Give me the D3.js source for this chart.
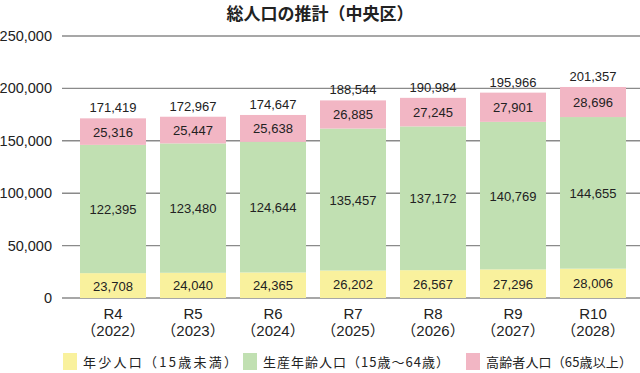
<!DOCTYPE html>
<html>
<head>
<meta charset="utf-8">
<script src="https://d3js.org/d3.v7.min.js"></script>
<style>
  body { margin: 0; background: #fff; }
  text { font-family: "Liberation Sans", "Noto Sans CJK JP", sans-serif; fill: #222; }
</style>
</head>
<body>
<div id="chart"></div>
<script>
var years = ["R4", "R5", "R6", "R7", "R8", "R9", "R10"];
var westernYears = ["（2022）", "（2023）", "（2024）", "（2025）", "（2026）", "（2027）", "（2028）"];
var young = [23708, 24040, 24365, 26202, 26567, 27296, 28006];
var working = [122395, 123480, 124644, 135457, 137172, 140769, 144655];
var elderly = [25316, 25447, 25638, 26885, 27245, 27901, 28696];
var totals = [171419, 172967, 174647, 188544, 190984, 195966, 201357];
var yTicks = [0, 50000, 100000, 150000, 200000, 250000];
var seriesNames = ["年少人口（15歳未満）", "生産年齢人口（15歳～64歳）", "高齢者人口（65歳以上）"];
var colors = ["#f9f19d", "#c1e0b2", "#f2b6c4"];

var width = 640, height = 373;
var svg = d3.select("#chart").append("svg")
  .attr("width", width).attr("height", height);

var x = d3.scaleBand().domain(years).range([73, 633]).paddingInner(0.175).paddingOuter(0.0875);
var y = d3.scaleLinear().domain([0, 250000]).range([298, 36]);

// title
svg.append("text")
  .attr("x", 320).attr("y", 20)
  .attr("text-anchor", "middle")
  .style("font-family", "'Noto Sans CJK JP', sans-serif")
  .style("font-size", "17px").style("font-weight", "bold")
  .text("総人口の推計（中央区）");

// grid
svg.append("g").selectAll("line").data(yTicks).enter().append("line")
  .attr("x1", 62).attr("x2", 640)
  .attr("y1", d => y(d)).attr("y2", d => y(d))
  .attr("stroke", "#8a8a8a").attr("stroke-width", 1.4);

svg.append("g").selectAll("text").data(yTicks).enter().append("text")
  .attr("x", 52).attr("y", d => y(d) + 5)
  .attr("text-anchor", "end")
  .style("font-size", "14.5px")
  .text(d => d3.format(",")(d));

// stacks
var rows = years.map((yr, i) => ({ year: yr, young: young[i], working: working[i], elderly: elderly[i] }));
var stack = d3.stack().keys(["young", "working", "elderly"])(rows);

var g = svg.append("g");
stack.forEach((layer, k) => {
  g.selectAll(null).data(layer).enter().append("rect")
    .attr("x", d => x(d.data.year))
    .attr("width", x.bandwidth())
    .attr("y", d => y(d[1]))
    .attr("height", d => y(d[0]) - y(d[1]))
    .attr("fill", colors[k]);
  g.selectAll(null).data(layer).enter().append("text")
    .attr("x", d => x(d.data.year) + x.bandwidth() / 2)
    .attr("y", d => y((d[0] + d[1]) / 2) + 5)
    .attr("text-anchor", "middle")
    .style("font-size", "13px")
    .text(d => d3.format(",")(d[1] - d[0]));
});

// totals
svg.append("g").selectAll("text").data(years).enter().append("text")
  .attr("x", d => x(d) + x.bandwidth() / 2)
  .attr("y", (d, i) => y(totals[i]) - 6)
  .attr("text-anchor", "middle")
  .style("font-size", "13px")
  .text((d, i) => d3.format(",")(totals[i]));

// x labels
svg.append("g").selectAll("text").data(years).enter().append("text")
  .attr("x", d => x(d) + x.bandwidth() / 2).attr("y", 319)
  .attr("text-anchor", "middle").style("font-size", "15px")
  .text(d => d);
svg.append("g").selectAll("text").data(westernYears).enter().append("text")
  .attr("x", (d, i) => x(years[i]) + x.bandwidth() / 2).attr("y", 336)
  .attr("text-anchor", "middle").style("font-size", "15px")
  .text(d => d);

var legendX = [63, 243, 466];
var legendW = [154, 186, 146];
var lg = svg.append("g").selectAll("g").data(seriesNames).enter().append("g")
  .attr("transform", (d, i) => "translate(" + legendX[i] + ",353)");
lg.append("rect").attr("width", 14).attr("height", 17).attr("fill", (d, i) => colors[i]);
lg.append("text").attr("x", 20).attr("y", 14)
  .style("font-family", "'Noto Sans CJK JP', sans-serif")
  .style("font-size", "13px")
  .attr("textLength", (d, i) => legendW[i])
  .attr("lengthAdjust", "spacing")
  .text(d => d);
</script>
</body>
</html>
